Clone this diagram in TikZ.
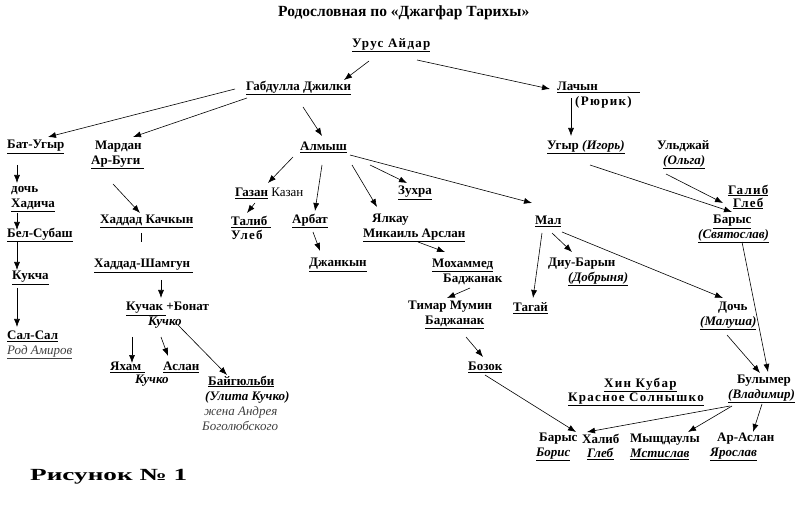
\documentclass[tikz,border=0pt]{standalone}
\usepackage{fontspec}
\setmainfont{Liberation Serif}
\newfontfamily\spaced[LetterSpace=10]{Liberation Serif}
\usepackage{tikz}
\usetikzlibrary{arrows.meta}

\begin{document}
\begin{tikzpicture}[x=1pt,y=-1pt,
  person/.style={anchor=west,inner sep=0pt,align=left,font=\bfseries\fontsize{13}{14.5}\selectfont},
  link/.style={-{Latex[length=8pt,width=6pt]},line width=0.6pt}]
\useasboundingbox (0,0) rectangle (800,510);
\node[person,font=\bfseries\fontsize{15.5}{16}\selectfont] (title) at (278,13) {Родословная по «Джагфар Тарихы»};
\node[person] (urus) at (352,45) {\underline{\spaced Урус Айдар}};
\node[person] (gabdulla) at (246,88) {\underline{Габдулла Джилки}};
\node[person] (lachyn) at (557,95) {\underline{Лачын\hspace*{42pt}}\\\hspace*{18pt}{\spaced (Рюрик)}};
\node[person] (batugyr) at (7,147) {\underline{Бат-Угыр}};
\node[person] (mardan) at (91,155) {\hspace*{4pt}Мардан\\\underline{Ар-Буги\ }};
\node[person] (almysh) at (300,147) {\underline{Алмыш}};
\node[person] (ugyr) at (547,147) {\underline{Угыр \textit{(Игорь)}}};
\node[person] (uldzhay) at (657,155) {Ульджай\\\hspace*{6pt}\underline{\textit{(Ольга)}}};
\node[person] (hadicha) at (11,199) {дочь\\\underline{Хадича}};
\node[person] (belsubash) at (7,235) {\underline{Бел-Субаш}};
\node[person] (kukcha) at (12,278) {\underline{Кукча}};
\node[person] (salsal) at (7,345) {\underline{Сал-Сал}\\{\mdseries\itshape\color{darkgray}\underline{Род Амиров}}};
\node[person] (haddad) at (100,221) {\underline{Хаддад Качкын}};
\node[person] (shamgun) at (94,266) {\underline{Хаддад-Шамгун\ }};
\node[person] (kuchak) at (126,315) {\underline{Кучак\ }+Бонат\\\hspace*{22pt}\textit{Кучко}};
\node[person] (yaham) at (110,367) {\underline{Яхам\ }};
\node[person] (aslan) at (163,367) {\underline{Аслан}};
\node[person] (kuchko) at (135,381) {\textit{Кучко}};
\node[person,font=\bfseries\fontsize{13}{15}\selectfont] (baigyulbi) at (202,403) {\hspace*{6pt}\underline{Байгюльби}\\\hspace*{3pt}\textit{(Улита Кучко)}\\{\mdseries\itshape\color{darkgray}\hspace*{2pt}жена Андрея}\\{\mdseries\itshape\color{darkgray}Боголюбского}};
\node[person] (gazan) at (235,193) {\underline{Газан} \mdseries Казан};
\node[person] (talib) at (231,228) {\underline{Талиб\ }\\{\spaced Улеб}};
\node[person] (arbat) at (292,221) {\underline{Арбат}};
\node[person] (dzhankyn) at (309,265) {\underline{Джанкын}};
\node[person] (zuhra) at (398,193) {\underline{Зухра}};
\node[person] (yalkau) at (363,228) {\hspace*{9pt}Ялкау\\\underline{Микаиль Арслан}};
\node[person] (mohammed) at (432,272) {\underline{Мохаммед}\\\hspace*{11pt}Баджанак};
\node[person] (timar) at (408,315) {Тимар Мумин\\\hspace*{17pt}\underline{Баджанак}};
\node[person] (bozok) at (468,367) {\underline{Бозок}};
\node[person] (mal) at (535,221) {\underline{Мал}};
\node[person] (diubaryn) at (548,272) {Диу-Барын\\\hspace*{20pt}\underline{\textit{(Добрыня)}}};
\node[person] (tagay) at (513,308) {\underline{Тагай}};
\node[person,font=\bfseries\fontsize{13}{13}\selectfont] (galib) at (728,197) {\underline{\spaced Галиб}\\\hspace*{5pt}\underline{\spaced Глеб}};
\node[person] (barys) at (698,229) {\hspace*{15pt}\underline{Барыс}\\\underline{\textit{(Святослав)}}};
\node[person] (dochm) at (700,316) {\hspace*{18pt}Дочь\\\underline{\textit{(Малуша)}}};
\node[person] (hinkubar) at (568,392) {\hspace*{36pt}\underline{\spaced Хин Кубар}\\\underline{\spaced Красное Солнышко}};
\node[person] (bulymer) at (728,389) {\hspace*{9pt}Булымер\\\underline{\textit{(Владимир)}}};
\node[person] (boris) at (536,447) {\hspace*{3pt}Барыс\\\underline{\textit{Борис}}};
\node[person] (halib) at (582,447) {Халиб\\\hspace*{5pt}\underline{\textit{Глеб}}};
\node[person] (mysh) at (630,447) {Мыщдаулы\\\underline{\textit{Мстислав}}};
\node[person] (araslan) at (710,447) {\hspace*{7pt}Ар-Аслан\\\underline{\textit{Ярослав}}};
\node[person,font=\bfseries\fontsize{17}{17}\selectfont] (figure) at (30,477) {\scalebox{1.6}[1]{Рисунок № 1}};
% ветви
\draw[link] ([shift={(17,16)}]urus.west) -- ([shift={(98,-8)}]gabdulla.west);
\draw[link] ([shift={(65,15)}]urus.west) -- ([shift={(-7,-6)}]lachyn.west);
\draw[link] ([shift={(-11,1)}]gabdulla.west) -- ([shift={(41,-10)}]batugyr.west);
\draw[link] ([shift={(1,10)}]gabdulla.west) -- ([shift={(42,-18)}]mardan.west);
\draw[link] ([shift={(57,19)}]gabdulla.west) -- ([shift={(22,-11)}]almysh.west);
\draw[link] ([shift={(14,3)}]lachyn.west) -- ([shift={(24,-11)}]ugyr.west);
\draw[link] ([shift={(10,18)}]batugyr.west) -- ([shift={(6,-16)}]hadicha.west);
\draw[link] ([shift={(6,14)}]hadicha.west) -- ([shift={(10,-5)}]belsubash.west);
\draw[link] ([shift={(10,7)}]belsubash.west) -- ([shift={(5,-8)}]kukcha.west);
\draw[link] ([shift={(5,10)}]kukcha.west) -- ([shift={(10,-18)}]salsal.west);
\draw[link] ([shift={(22,29)}]mardan.west) -- ([shift={(40,-8)}]haddad.west);
\draw ([shift={(41,12)}]haddad.west) -- ([shift={(47,-24)}]shamgun.west);
\draw[link] ([shift={(67,14)}]shamgun.west) -- ([shift={(35,-17)}]kuchak.west);
\draw[link] ([shift={(6,22)}]kuchak.west) -- ([shift={(22,-4)}]yaham.west);
\draw[link] ([shift={(35,22)}]kuchak.west) -- ([shift={(5,-11)}]aslan.west);
\draw[link] ([shift={(52,10)}]kuchak.west) -- ([shift={(25,-28)}]baigyulbi.west);
\draw[link] ([shift={(-7,10)}]almysh.west) -- ([shift={(33,-10)}]gazan.west);
\draw[link] ([shift={(20,10)}]gazan.west) -- ([shift={(16,-15)}]talib.west);
\draw[link] ([shift={(22,18)}]almysh.west) -- ([shift={(23,-10)}]arbat.west);
\draw[link] ([shift={(21,11)}]arbat.west) -- ([shift={(11,-14)}]dzhankyn.west);
\draw[link] ([shift={(52,18)}]almysh.west) -- ([shift={(14,-21)}]yalkau.west);
\draw[link] ([shift={(70,18)}]almysh.west) -- ([shift={(9,-10)}]zuhra.west);
\draw[link] ([shift={(50,8)}]almysh.west) -- ([shift={(-3,-18)}]mal.west);
\draw[link] ([shift={(55,14)}]yalkau.west) -- ([shift={(13,-20)}]mohammed.west);
\draw[link] ([shift={(38,16)}]mohammed.west) -- ([shift={(39,-17)}]timar.west);
\draw[link] ([shift={(58,22)}]timar.west) -- ([shift={(15,-10)}]bozok.west);
\draw[link] ([shift={(7,12)}]mal.west) -- ([shift={(20,-10)}]tagay.west);
\draw[link] ([shift={(17,12)}]mal.west) -- ([shift={(24,-20)}]diubaryn.west);
\draw[link] ([shift={(27,11)}]mal.west) -- ([shift={(23,-18)}]dochm.west);
\draw[link] ([shift={(43,18)}]ugyr.west) -- ([shift={(34,-17)}]barys.west);
\draw[link] ([shift={(9,19)}]uldzhay.west) -- ([shift={(25,-26)}]barys.west);
\draw[link] ([shift={(44,13)}]barys.west) -- ([shift={(40,-17)}]bulymer.west);
\draw[link] ([shift={(27,19)}]dochm.west) -- ([shift={(32,-16)}]bulymer.west);
\draw[link] ([shift={(17,8)}]bozok.west) -- ([shift={(40,-15)}]boris.west);
\draw[link] ([shift={(2,17)}]bulymer.west) -- ([shift={(5,-15)}]halib.west);
\draw[link] ([shift={(4,17)}]bulymer.west) -- ([shift={(58,-15)}]mysh.west);
\draw[link] ([shift={(34,15)}]bulymer.west) -- ([shift={(43,-15)}]araslan.west);
\end{tikzpicture}
\end{document}
